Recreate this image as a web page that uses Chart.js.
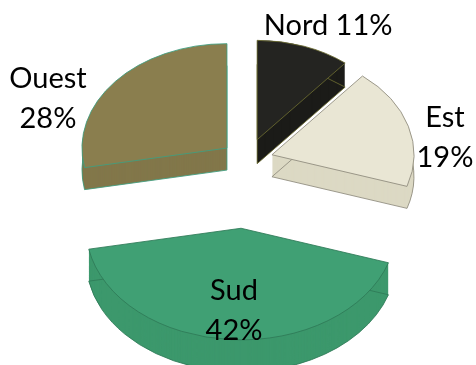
<!DOCTYPE html>
<html>
<head>
<meta charset="utf-8">
<script src="https://cdn.jsdelivr.net/npm/chart.js@4.4.1/dist/chart.umd.min.js"></script>
<style>
  html, body { margin: 0; padding: 0; background: #ffffff; }
  canvas { display: block; }
</style>
</head>
<body>
<canvas id="pie3d" width="476" height="365"></canvas>
<script>
// Data
const regions = ['Nord', 'Est', 'Sud', 'Ouest'];
const shares = [11, 19, 42, 28];

// Look of each slice
const topColors = ['#242421', '#e9e6d4', '#40a074', '#8a7e4e'];
const sideColors = ['#1b1b18', '#dcd9c4', '#3c986c', '#82774a'];
const edgeColors = ['#6a6a30', '#8e8b7d', '#2f7a57', '#3f9e80'];
const explode = [30, 26, 95, 26];       // how far each slice is pulled out
const radii = [138, 142, 155, 145];      // near slices look a bit bigger
const depths = [24, 22, 32, 22];         // slice thickness, screen px
const labelWrap = [false, true, true, true];
const labelShift = [[71, -114], [173, -17], [-7, 82], [-179, -49]];

const tilt = 0.72;    // vertical squash of the pie

const tiltPlugin = {
    id: 'tilt3d',
    // pull the slices apart (moves the arc elements' own centres)
    afterDatasetsUpdate(chart) {
        const meta = chart.getDatasetMeta(0);
        meta.data.forEach((el, i) => {
            const half = (el.startAngle + el.endAngle) / 2;
            el.x += Math.cos(half) * explode[i];
            el.y += Math.sin(half) * explode[i];
            el.outerRadius = radii[i];
        });
    },
    beforeDatasetsDraw(chart) {
        const ctx = chart.ctx;
        const meta = chart.getDatasetMeta(0);
        const cy = (chart.chartArea.top + chart.chartArea.bottom) / 2;
        ctx.save();
        ctx.translate(0, cy * (1 - tilt));
        ctx.scale(1, tilt);
        // extrude each slice downwards
        meta.data.forEach((el, i) => {
            const depth = depths[i];
            ctx.fillStyle = sideColors[i];
            for (let s = depth; s > 0; s--) {
                ctx.beginPath();
                ctx.moveTo(el.x, el.y + s / tilt);
                ctx.arc(el.x, el.y + s / tilt, el.outerRadius, el.startAngle, el.endAngle);
                ctx.closePath();
                ctx.fill();
            }
            ctx.beginPath();
            ctx.moveTo(el.x, el.y + depth / tilt);
            ctx.arc(el.x, el.y + depth / tilt, el.outerRadius, el.startAngle, el.endAngle);
            ctx.closePath();
            ctx.strokeStyle = edgeColors[i];
            ctx.lineWidth = 1;
            ctx.stroke();
        });
    },
    afterDatasetsDraw(chart) {
        const ctx = chart.ctx;
        ctx.restore();
        const meta = chart.getDatasetMeta(0);
        const cy = (chart.chartArea.top + chart.chartArea.bottom) / 2;
        ctx.save();
        ctx.fillStyle = '#000000';
        ctx.font = '29px Lato';
        ctx.textAlign = 'center';
        ctx.textBaseline = 'middle';
        meta.data.forEach((el, i) => {
            const ax = el.x + labelShift[i][0];
            const ay = cy + (el.y - cy) * tilt + labelShift[i][1];
            const pct = shares[i] + '%';
            if (labelWrap[i]) {
                ctx.fillText(regions[i], ax, ay - 20);
                ctx.fillText(pct, ax, ay + 20);
            } else {
                ctx.fillText(regions[i] + ' ' + pct, ax, ay);
            }
        });
        ctx.restore();
    }
};

new Chart(document.getElementById('pie3d'), {
    type: 'pie',
    data: {
        labels: regions,
        datasets: [{
            data: shares,
            backgroundColor: topColors,
            borderColor: edgeColors,
            borderWidth: 1,
            radius: 150,
            clip: false
        }]
    },
    options: {
        responsive: false,
        animation: false,
        devicePixelRatio: 1,
        layout: { padding: { left: 18, bottom: 45 } },
        events: [],
        plugins: {
            legend: { display: false },
            tooltip: { enabled: false }
        }
    },
    plugins: [tiltPlugin]
});
</script>
</body>
</html>
